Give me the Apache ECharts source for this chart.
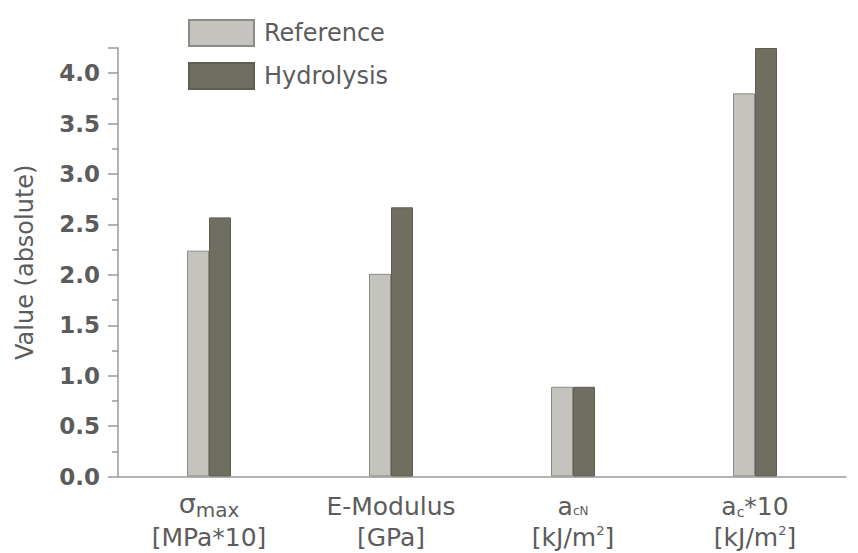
<!DOCTYPE html>
<html>
<head>
<meta charset="utf-8">
<script src="https://cdn.jsdelivr.net/npm/echarts@6/dist/echarts.min.js"></script>
<style>
  html, body { margin: 0; padding: 0; background: #fff; }
  #chart { width: 858px; height: 553px; }
</style>
</head>
<body>
<div id="chart"></div>
<script>
// Mechanical properties before and after hydrolysis
const categories = ['sigma', 'emod', 'acn', 'ac'];
const categoryLabels = [
  '{big|σ}{sub|max}\n{txt|[MPa*10]}',
  '{txt|E-Modulus}\n{txt|[GPa]}',
  '{txt|a}{tiny|cN}\n{txt|[kJ/m}{sup|2}{txt|]}',
  '{txt|a}{csub|c}{txt|*10}\n{txt|[kJ/m}{sup|2}{txt|]}'
];
const referenceValues = [2.24, 2.01, 0.89, 3.80];
const hydrolysisValues = [2.57, 2.67, 0.89, 4.25];
const seriesNames = ['Reference', 'Hydrolysis'];

const FONT = "'DejaVu Sans', 'Liberation Sans', Arial, sans-serif";
const TEXT = '#5c5c5c';
const AXIS = '#9a9a9a';

const chart = echarts.init(document.getElementById('chart'), null, { renderer: 'svg' });

chart.setOption({
  backgroundColor: '#ffffff',
  animation: false,
  grid: { left: 118, right: 12, top: 48, bottom: 76.5, containLabel: false },
  legend: {
    orient: 'vertical',
    left: 183,
    top: 14,
    itemWidth: 65,
    itemHeight: 26,
    itemGap: 15,
    icon: 'rect',
    data: seriesNames,
    textStyle: { fontFamily: FONT, fontSize: 24, lineHeight: 26, color: TEXT, padding: [0, 0, 0, 5] }
  },
  xAxis: [
    {
      type: 'category',
      data: categories,
      position: 'bottom',
      axisLine: { lineStyle: { color: AXIS, width: 1.5 } },
      axisTick: { alignWithLabel: true, length: 9, lineStyle: { color: AXIS, width: 1.5 } },
      axisLabel: {
        interval: 0,
        margin: 14,
        formatter: (v, i) => categoryLabels[i],
        rich: {
          txt: { fontFamily: FONT, fontSize: 25, color: TEXT, lineHeight: 31 },
          big: { fontFamily: FONT, fontSize: 27, color: TEXT, lineHeight: 31, padding: [0, 0, 6, 0] },
          sub: { fontFamily: FONT, fontSize: 20, color: TEXT, lineHeight: 31, padding: [8, 0, 0, 0] },
          tiny: { fontFamily: FONT, fontSize: 12, color: TEXT, lineHeight: 31, padding: [10, 0, 0, 0] },
          csub: { fontFamily: FONT, fontSize: 14, color: TEXT, lineHeight: 31, padding: [12, 0, 0, 0] },
          sup: { fontFamily: FONT, fontSize: 13, color: TEXT, lineHeight: 31, padding: [0, 0, 14, 0] }
        }
      }
    },
    {
      // boundary ticks between categories
      type: 'category',
      data: categories,
      position: 'bottom',
      axisLine: { show: false },
      axisTick: { alignWithLabel: false, length: 5, lineStyle: { color: AXIS, width: 1.5 } },
      axisLabel: { show: false }
    }
  ],
  yAxis: {
    type: 'value',
    min: 0,
    max: 4.25,
    interval: 0.5,
    name: 'Value (absolute)',
    nameLocation: 'middle',
    nameGap: 81,
    nameTextStyle: { fontFamily: FONT, fontSize: 24, color: TEXT },
    axisLine: { show: true, lineStyle: { color: AXIS, width: 1.5 } },
    axisTick: { show: true, length: 10, lineStyle: { color: AXIS, width: 1.5 } },
    minorTick: { show: true, splitNumber: 2, length: 6, lineStyle: { color: AXIS, width: 1.5 } },
    splitLine: { show: false },
    axisLabel: {
      margin: 18,
      showMaxLabel: false,
      fontFamily: FONT,
      fontSize: 23,
      fontWeight: 'bold',
      color: TEXT,
      formatter: v => v.toFixed(1)
    }
  },
  series: [
    {
      name: seriesNames[0],
      type: 'bar',
      data: referenceValues,
      barWidth: 22,
      barGap: '0%',
      itemStyle: { color: '#c4c3be', borderColor: '#8c8b86', borderWidth: 1 }
    },
    {
      name: seriesNames[1],
      type: 'bar',
      data: hydrolysisValues,
      barWidth: 22,
      barGap: '0%',
      itemStyle: { color: '#6f6e61', borderColor: '#5f5e53', borderWidth: 1 }
    }
  ]
});
</script>
</body>
</html>
